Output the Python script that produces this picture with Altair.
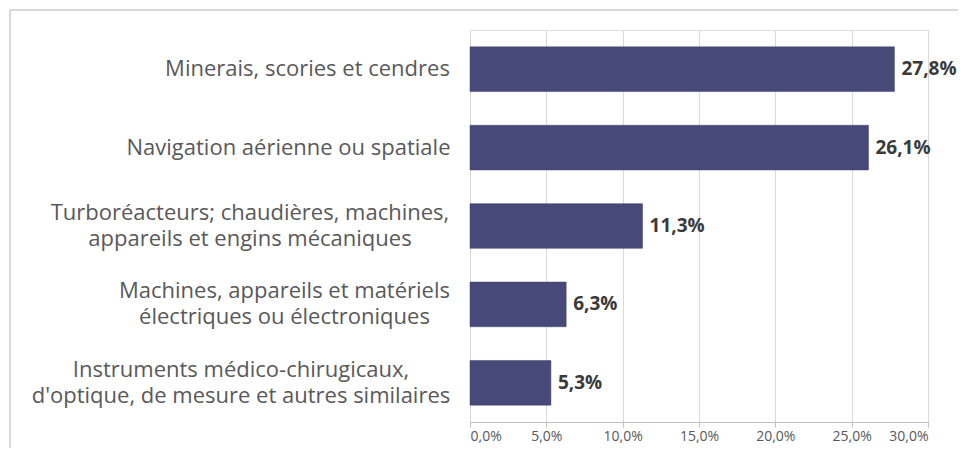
import altair as alt
import pandas as pd

categories = [
    "Minerais, scories et cendres",
    "Navigation aérienne ou spatiale",
    "Turboréacteurs; chaudières, machines,|appareils et engins mécaniques",
    "Machines, appareils et matériels|électriques ou électroniques",
    "Instruments médico-chirugicaux,|d'optique, de mesure et autres similaires",
]
values = [0.278, 0.261, 0.113, 0.063, 0.053]
labels = ["27,8%", "26,1%", "11,3%", "6,3%", "5,3%"]
x_ticks = [0, 0.05, 0.10, 0.15, 0.20, 0.25, 0.30]

df = pd.DataFrame({"cat": categories, "val": values, "lab": labels})

FONT = "Open Sans"
W, H = 458, 392

# labels are centred (like the original's multi-line labels); the padding
# puts the right edge of the widest line of each label 21px from the axis
half_widths = [("Minerais", 142), ("Navigation", 161), ("Turbo", 199.5),
               ("Machines", 165), ("Instruments", 208.5)]
pad_cond = [
    {"test": f"indexof(datum.label, '{k}') == 0", "value": 21 + hw}
    for k, hw in half_widths
]

y_enc = alt.Y(
    "cat:N", sort=None, title=None,
    scale=alt.Scale(paddingInner=0.43, paddingOuter=0.215),
    axis=alt.Axis(
        labelExpr="split(datum.label, '|')", ticks=False, domain=False,
        labelAlign="center",
        labelPadding={"condition": pad_cond, "value": 21},
        labelFontSize=22, labelColor="#595959",
        labelFont=FONT, labelLineHeight=26, labelLimit=600,
        labelOffset=alt.ConditionalAxisNumber(
            condition={"test": "indexof(datum.label, '|') >= 0", "value": -13},
            value=0,
        ),
    ),
)
x_enc = alt.X(
    "val:Q", title=None,
    scale=alt.Scale(domain=[0, 0.30], nice=False),
    axis=alt.Axis(
        values=x_ticks,
        labelExpr="replace(format(datum.value, '.1%'), '.', ',')",
        grid=True, gridColor="#d9d9d9", domainColor="#bfbfbf",
        tickColor="#bfbfbf", tickSize=5, labelColor="#595959",
        labelFontSize=14, labelFont=FONT, labelPadding=2,
    ),
)

bars = alt.Chart(df).mark_bar(color="#474A78", stroke="#3e416c", strokeWidth=0.5).encode(
    x=x_enc, y=y_enc
)
text = alt.Chart(df).mark_text(
    align="left", baseline="middle", dx=7, fontSize=19, fontWeight="bold",
    color="#3a3a3a", font=FONT,
).encode(x="val:Q", y=alt.Y("cat:N", sort=None), text="lab:N")

frame_top = alt.Chart(df).mark_rule(color="#d9d9d9", strokeWidth=1.5).encode(
    x=alt.value(-460), x2=alt.value(W + 60), y=alt.value(-20)
)
frame_left = alt.Chart(df).mark_rule(color="#d9d9d9", strokeWidth=1.5).encode(
    x=alt.value(-460), y=alt.value(-20), y2=alt.value(H + 60)
)

chart = alt.layer(frame_top, frame_left, bars, text).properties(
    width=W, height=H,
    autosize=alt.AutoSizeParams(type="none"),
    padding={"left": 462, "top": 22, "right": 30, "bottom": 26},
).configure_view(stroke=None).configure(background="white")

chart.save("out.html", embed_options={"renderer": "svg", "actions": False})
